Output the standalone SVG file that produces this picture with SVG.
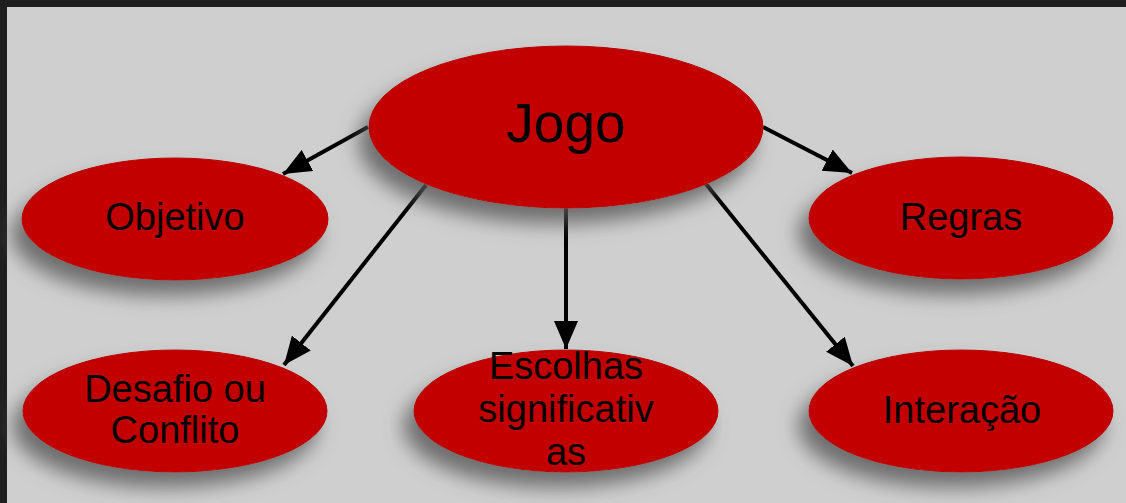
<svg xmlns="http://www.w3.org/2000/svg" width="1126" height="503" viewBox="0 0 1126 503">
  <style>
    .node { fill: #c30000; stroke: #b80000; stroke-width: 1; filter: url(#shadow); }
    .label { font-family: "Liberation Sans", Arial, sans-serif; font-size: 38px; fill: #000; text-anchor: middle; }
    .edge { stroke: #000; stroke-width: 4; fill: none; marker-end: url(#arrow); }
  </style>
  <defs>
    <filter id="shadow" x="-30%" y="-40%" width="160%" height="200%">
      <feGaussianBlur in="SourceAlpha" stdDeviation="10"/>
      <feOffset dx="-10" dy="15" result="b"/>
      <feFlood flood-color="#555555" flood-opacity="0.8"/>
      <feComposite in2="b" operator="in" result="s"/>
      <feMerge><feMergeNode in="s"/><feMergeNode in="SourceGraphic"/></feMerge>
    </filter>
    <marker id="arrow" viewBox="0 0 28 24" refX="28" refY="12" markerWidth="28" markerHeight="24" markerUnits="userSpaceOnUse" orient="auto">
      <path d="M0,0 L28,12 L0,24 Z" fill="#000"/>
    </marker>
  </defs>
  <rect x="0" y="0" width="1126" height="503" fill="#cfcfcf"/>
  <rect x="0" y="0" width="1126" height="7" fill="#1f1f1f"/>
  <rect x="0" y="0" width="7" height="503" fill="#1f1f1f"/>

  <g id="connectors">
    <line class="edge" x1="368" y1="127" x2="283" y2="174"/>
    <line class="edge" x1="763" y1="127" x2="852" y2="173"/>
    <line class="edge" x1="426" y1="185" x2="284" y2="365"/>
    <line class="edge" x1="566" y1="208" x2="566" y2="349"/>
    <line class="edge" x1="706" y1="184" x2="853" y2="366"/>
  </g>

  <g id="objetivo">
    <ellipse class="node" cx="175" cy="219" rx="153" ry="61"/>
    <text class="label" x="175" y="230">Objetivo</text>
  </g>
  <g id="regras">
    <ellipse class="node" cx="961" cy="218" rx="152" ry="61"/>
    <text class="label" x="961" y="230">Regras</text>
  </g>
  <g id="desafio">
    <ellipse class="node" cx="175" cy="411" rx="152" ry="61"/>
    <text class="label" x="175" y="402">Desafio ou</text>
    <text class="label" x="175" y="443">Conflito</text>
  </g>
  <g id="escolhas">
    <ellipse class="node" cx="566" cy="411" rx="152" ry="61"/>
    <text class="label" x="566" y="379">Escolhas</text>
    <text class="label" x="566" y="422">significativ</text>
    <text class="label" x="566" y="465">as</text>
  </g>
  <g id="interacao">
    <ellipse class="node" cx="961" cy="411" rx="152" ry="61"/>
    <text class="label" x="962" y="423">Interação</text>
  </g>
  <g id="jogo">
    <ellipse class="node" cx="566" cy="127" rx="197" ry="81"/>
    <text class="label" x="566" y="142" style="font-size:55px">Jogo</text>
  </g>
</svg>
